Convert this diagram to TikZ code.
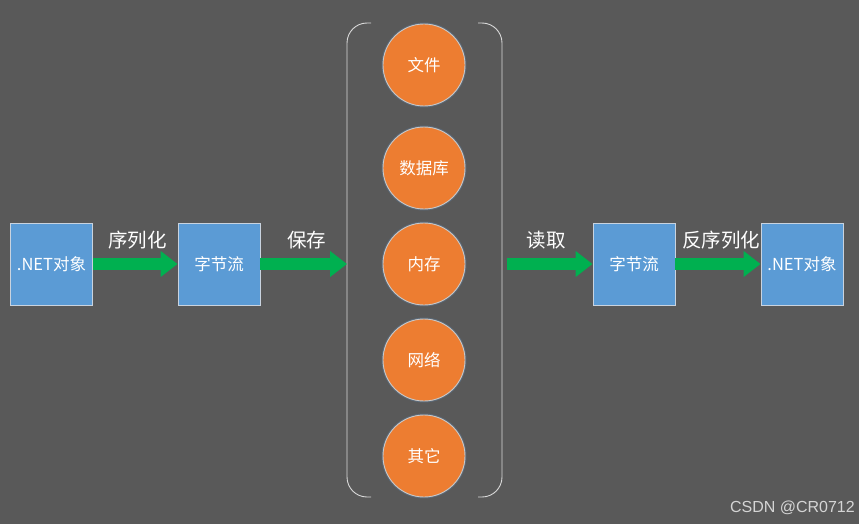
\documentclass[tikz,border=0pt]{standalone}
\usepackage{fontspec}
\setmainfont{Noto Sans CJK SC}
\newfontfamily\wmfont{Liberation Sans}
\usetikzlibrary{arrows.meta}
\definecolor{bg}{HTML}{595959}
\definecolor{boxblue}{HTML}{5B9BD5}
\definecolor{boxedge}{HTML}{C9D3DF}
\definecolor{orng}{HTML}{ED7D31}
\definecolor{ringc}{HTML}{C8C8C8}
\definecolor{grn}{HTML}{00B050}
\definecolor{brk}{HTML}{D9D9D9}
\definecolor{wm}{HTML}{D4D4D4}
\tikzset{
  blockbox/.style={rectangle, fill=boxblue, draw=boxedge, line width=0.9pt,
    minimum width=82pt, minimum height=82pt, inner sep=0pt,
    text=white, font=\fontsize{16.5}{19}\selectfont},
  store/.style={circle, fill=orng, draw=ringc, line width=0.9pt,
    minimum size=82pt, inner sep=0pt, text=white,
    font=\fontsize{16.5}{19}\selectfont,
    preaction={draw=boxblue!40!bg, line width=3pt, opacity=0.6}},
  flow/.style={draw=grn, line width=12.5pt,
    -{Triangle[length=17pt,width=25pt,fill=grn]}},
  flowlabel/.style={text=white, font=\fontsize{19.5}{23}\selectfont, inner sep=0pt},
  bracket/.style={draw=brk, line width=0.9pt, rounded corners=20pt}
}
\begin{document}
\begin{tikzpicture}[x=1pt,y=-1pt]
\fill[bg] (0,0) rectangle (859,524);
\useasboundingbox (0,0) rectangle (859,524);

% boxes
\node[blockbox] (obj1) at (51.5,264) {.NET对象};
\node[blockbox] (bs1)  at (219,264) {字节流};
\node[blockbox] (bs2)  at (634,264) {字节流};
\node[blockbox] (obj2) at (802,264) {.NET对象};

% storage circles
\node[store] (file) at (424,65)  {文件};
\node[store] (db)   at (424,168) {数据库};
\node[store] (mem)  at (424,264) {内存};
\node[store] (net)  at (424,360) {网络};
\node[store] (misc) at (424,456) {其它};

% brackets
\draw[bracket] (371,23) -- (347,23) -- (347,497) -- (371,497);
\draw[bracket] (478,23) -- (502,23) -- (502,497) -- (478,497);
\coordinate (bl) at (347,264);
\coordinate (br) at (507,264);

% arrows
\draw[flow] (obj1.east) -- (bs1.west);
\draw[flow] (bs1.east) -- (bl);
\draw[flow] (br) -- (bs2.west);
\draw[flow] (bs2.east) -- (obj2.west);

% labels
\node[flowlabel] (l1) at (137.5,240) {序列化};
\node[flowlabel] (l2) at (306.5,240) {保存};
\node[flowlabel] (l3) at (546,240) {读取};
\node[flowlabel] (l4) at (721,240) {反序列化};

% watermark
\node[text=wm, font=\wmfont\fontsize{16}{18}\selectfont, anchor=east, inner sep=0pt] (wmk) at (855,508) {CSDN @CR0712};
\end{tikzpicture}
\end{document}
